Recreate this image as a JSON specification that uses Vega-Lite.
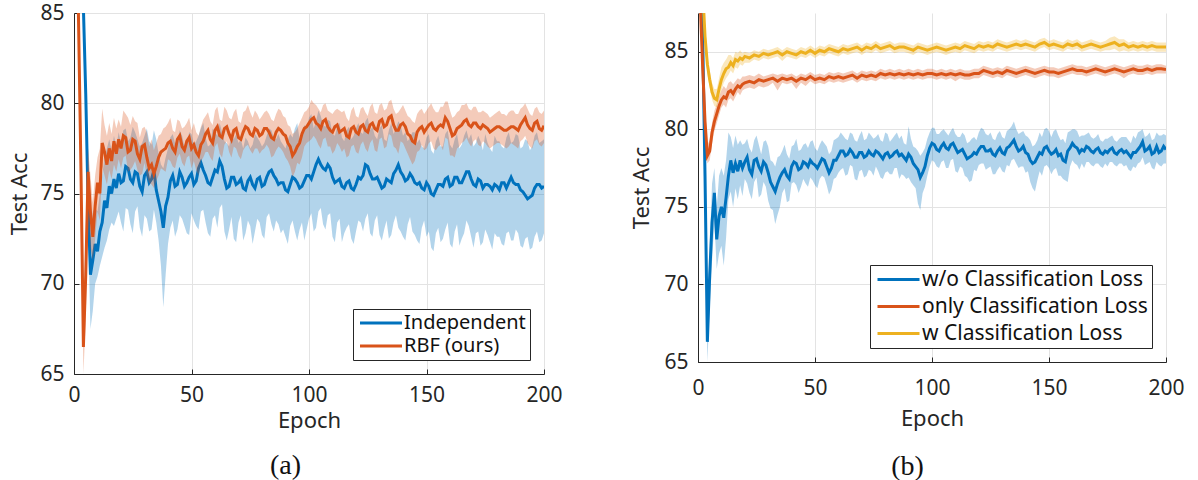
{
  "$schema": "https://vega.github.io/schema/vega-lite/v6.json",
  "background": "white",
  "padding": {"left": 8, "top": 2, "right": 5, "bottom": 5},
  "spacing": 67,
  "resolve": {"scale": {"color": "independent", "y": "independent", "x": "independent"}, "legend": {"color": "independent"}},
  "config": {
    "font": "Noto Sans",
    "view": {"stroke": null},
    "mark": {"invalid": "filter"},
    "axis": {
      "labelFont": "Noto Sans", "titleFont": "Noto Sans",
      "labelColor": "#262626", "titleColor": "#262626",
      "domainColor": "#262626", "tickColor": "#262626", "domainWidth": 1,
      "gridColor": "#E3E3E3", "grid": true, "labelFlush": false,
      "tickSize": -5, "labelFontSize": 21, "titleFontSize": 22, "titleFontWeight": "normal"
    },
    "legend": {
      "labelFont": "Noto Sans", "labelColor": "#111111", "labelFontSize": 20, "labelLimit": 400,
      "strokeColor": "#262626", "fillColor": "white", "padding": 4,
      "symbolType": "M-3,0H3", "symbolSize": 196, "symbolStrokeWidth": 3,
      "symbolOffset": 14, "labelOffset": 13, "rowPadding": 3
    },
    "title": {"font": "Liberation Serif", "fontSize": 28, "fontWeight": "normal", "color": "#111111"}
  },
  "datasets": {
    "a": [
      {"e":1,"i":95,"il":94,"ih":96,"r":92,"rl":91,"rh":93},
      {"e":2,"i":92,"il":91,"ih":93,"r":84,"rl":82.5,"rh":85.5},
      {"e":3,"i":88,"il":87,"ih":89,"r":76,"rl":74,"rh":79},
      {"e":4,"i":85.3,"il":84.5,"ih":86,"r":66.5,"rl":65,"rh":68},
      {"e":5,"i":80.5,"il":79.5,"ih":81.5,"r":70.5,"rl":68,"rh":73},
      {"e":6,"i":74.5,"il":73,"ih":76,"r":76.2,"rl":74.5,"rh":77.5},
      {"e":7,"i":70.5,"il":67.5,"ih":72.5,"r":74,"rl":72,"rh":76},
      {"e":8,"i":71.3,"il":68.5,"ih":74,"r":72.6,"rl":71.3,"rh":74.5},
      {"e":9,"i":72.2,"il":70,"ih":74.2,"r":74.3,"rl":72.5,"rh":76},
      {"e":10,"i":71.8,"il":70.4,"ih":74,"r":75.6,"rl":74,"rh":77},
      {"e":11,"i":72.9,"il":71,"ih":75,"r":75.0,"rl":73.5,"rh":77.5},
      {"e":12,"i":73.4,"il":71.5,"ih":76,"r":77.8,"rl":76.5,"rh":79.7},
      {"e":13,"i":74.6,"il":72,"ih":77,"r":77.3,"rl":76,"rh":78.8},
      {"e":14,"i":74.2,"il":72.4,"ih":77.5,"r":76.6,"rl":75.5,"rh":78.2},
      {"e":15,"i":75.4,"il":73,"ih":78,"r":77.5,"rl":76.3,"rh":78.9},
      {"e":16,"i":75.0,"il":73.4,"ih":77.4,"r":76.8,"rl":75.8,"rh":78.3},
      {"e":17,"i":75.8,"il":73.2,"ih":78.2,"r":77.9,"rl":76.6,"rh":79.2},
      {"e":18,"i":75.3,"il":73.6,"ih":77.6,"r":77.2,"rl":76.2,"rh":78.6},
      {"e":19,"i":76.1,"il":74,"ih":78.4,"r":78.0,"rl":76.9,"rh":79.1},
      {"e":20,"i":75.6,"il":73.4,"ih":77.8,"r":77.5,"rl":76.4,"rh":78.7},
      {"e":21,"i":75.7,"il":72.9,"ih":78.5,"r":78.2,"rl":77.0,"rh":79.6},
      {"e":22,"i":76.5,"il":74.2,"ih":78.6,"r":78.1,"rl":77.1,"rh":79.4},
      {"e":23,"i":76.4,"il":74.1,"ih":77.9,"r":77.3,"rl":76.2,"rh":79.2},
      {"e":24,"i":75.8,"il":73.3,"ih":78.1,"r":77.4,"rl":76.3,"rh":78.8},
      {"e":25,"i":75.6,"il":72.8,"ih":78.7,"r":78.0,"rl":76.5,"rh":79.3},
      {"e":26,"i":76.2,"il":74.0,"ih":78.4,"r":77.9,"rl":76.8,"rh":79.0},
      {"e":27,"i":76.1,"il":74.3,"ih":78.0,"r":77.2,"rl":76.3,"rh":78.9},
      {"e":28,"i":75.4,"il":73.1,"ih":77.6,"r":76.9,"rl":76.0,"rh":78.1},
      {"e":29,"i":75.1,"il":72.6,"ih":77.8,"r":77.6,"rl":76.1,"rh":78.6},
      {"e":30,"i":76.0,"il":73.8,"ih":78.2,"r":77.7,"rl":76.7,"rh":78.7},
      {"e":31,"i":76.2,"il":73.6,"ih":78.6,"r":77.0,"rl":76.0,"rh":78.4},
      {"e":32,"i":75.6,"il":72.9,"ih":77.9,"r":76.4,"rl":75.6,"rh":77.6},
      {"e":33,"i":75.8,"il":73.0,"ih":77.7,"r":76.6,"rl":75.5,"rh":78.0},
      {"e":34,"i":76.3,"il":74.1,"ih":78.5,"r":76.1,"rl":75.3,"rh":77.4},
      {"e":35,"i":75.2,"il":73.4,"ih":78.0,"r":76.5,"rl":75.7,"rh":77.8},
      {"e":36,"i":74.6,"il":72.4,"ih":77.2,"r":77.0,"rl":76.0,"rh":78.2},
      {"e":37,"i":74.0,"il":71.0,"ih":76.6,"r":77.3,"rl":76.4,"rh":78.3},
      {"e":38,"i":73.1,"il":68.7,"ih":76.4,"r":77.4,"rl":76.3,"rh":78.6},
      {"e":39,"i":74.3,"il":70.5,"ih":77.0,"r":77.5,"rl":76.2,"rh":78.7},
      {"e":40,"i":74.8,"il":72.2,"ih":77.5,"r":77.8,"rl":76.9,"rh":78.9},
      {"e":41,"i":75.7,"il":73.1,"ih":78.1,"r":77.9,"rl":76.8,"rh":79.2},
      {"e":42,"i":76.0,"il":73.5,"ih":78.3,"r":77.5,"rl":76.5,"rh":78.5},
      {"e":43,"i":75.4,"il":72.6,"ih":77.8,"r":77.3,"rl":76.4,"rh":78.4},
      {"e":44,"i":75.5,"il":73.0,"ih":77.9,"r":78.0,"rl":77.0,"rh":79.1},
      {"e":45,"i":76.2,"il":73.8,"ih":78.5,"r":78.2,"rl":77.2,"rh":79.0},
      {"e":46,"i":75.9,"il":73.6,"ih":78.2,"r":77.6,"rl":76.7,"rh":78.6},
      {"e":47,"i":75.4,"il":73.2,"ih":77.6,"r":77.4,"rl":76.5,"rh":78.7},
      {"e":48,"i":75.6,"il":72.8,"ih":77.8,"r":77.9,"rl":77.0,"rh":78.9},
      {"e":49,"i":75.9,"il":72.7,"ih":78.4,"r":78.1,"rl":77.1,"rh":79.2},
      {"e":50,"i":76.1,"il":73.9,"ih":78.3,"r":77.5,"rl":76.4,"rh":78.5},
      {"e":51,"i":75.5,"il":73.5,"ih":77.7,"r":77.7,"rl":76.8,"rh":78.9},
      {"e":52,"i":75.7,"il":73.2,"ih":77.9,"r":77.3,"rl":76.3,"rh":78.4},
      {"e":53,"i":76.4,"il":73.0,"ih":78.2,"r":77.1,"rl":76.0,"rh":78.2},
      {"e":54,"i":76.7,"il":74.0,"ih":78.6,"r":77.7,"rl":76.8,"rh":78.7},
      {"e":55,"i":76.3,"il":74.1,"ih":78.9,"r":77.9,"rl":77.0,"rh":79.1},
      {"e":56,"i":76.0,"il":73.4,"ih":78.1,"r":78.3,"rl":77.3,"rh":79.3},
      {"e":57,"i":75.6,"il":72.8,"ih":77.6,"r":78.5,"rl":77.3,"rh":79.5},
      {"e":58,"i":75.5,"il":72.6,"ih":77.7,"r":78.0,"rl":77.0,"rh":79.0},
      {"e":59,"i":75.9,"il":73.6,"ih":78.6,"r":77.8,"rl":76.8,"rh":78.8},
      {"e":60,"i":76.3,"il":73.8,"ih":78.4,"r":78.5,"rl":77.6,"rh":79.6},
      {"e":61,"i":76.2,"il":73.1,"ih":78.2,"r":78.7,"rl":77.8,"rh":79.8},
      {"e":62,"i":76.8,"il":74.2,"ih":78.9,"r":78.2,"rl":77.2,"rh":79.1},
      {"e":63,"i":76.5,"il":74.4,"ih":78.4,"r":78.1,"rl":77.0,"rh":79.0},
      {"e":64,"i":75.8,"il":72.9,"ih":77.9,"r":78.6,"rl":77.7,"rh":79.8},
      {"e":65,"i":75.3,"il":72.4,"ih":77.8,"r":78.7,"rl":77.9,"rh":79.6},
      {"e":66,"i":75.4,"il":73.0,"ih":77.6,"r":78.3,"rl":77.3,"rh":79.2},
      {"e":67,"i":75.9,"il":73.7,"ih":78.2,"r":78.0,"rl":77.0,"rh":79.1},
      {"e":68,"i":75.9,"il":72.5,"ih":78.0,"r":78.5,"rl":77.6,"rh":79.5},
      {"e":69,"i":75.5,"il":72.3,"ih":78.3,"r":78.6,"rl":77.5,"rh":79.7},
      {"e":70,"i":75.6,"il":73.4,"ih":77.8,"r":78.1,"rl":77.1,"rh":79.0},
      {"e":71,"i":75.8,"il":73.8,"ih":78.0,"r":78.0,"rl":76.9,"rh":78.9},
      {"e":72,"i":75.3,"il":72.4,"ih":77.5,"r":78.4,"rl":77.4,"rh":79.5},
      {"e":73,"i":75.2,"il":72.8,"ih":78.1,"r":78.7,"rl":77.6,"rh":79.6},
      {"e":74,"i":75.7,"il":73.5,"ih":77.9,"r":78.6,"rl":77.7,"rh":79.9},
      {"e":75,"i":75.9,"il":73.2,"ih":77.5,"r":78.3,"rl":77.4,"rh":79.5},
      {"e":76,"i":75.5,"il":72.2,"ih":77.7,"r":78.2,"rl":77.2,"rh":79.2},
      {"e":77,"i":75.3,"il":72.9,"ih":78.3,"r":78.6,"rl":77.5,"rh":79.6},
      {"e":78,"i":75.8,"il":73.6,"ih":78.1,"r":78.5,"rl":77.5,"rh":79.4},
      {"e":79,"i":75.9,"il":73.4,"ih":77.9,"r":78.2,"rl":77.2,"rh":79.1},
      {"e":80,"i":75.4,"il":72.7,"ih":77.6,"r":78.3,"rl":77.4,"rh":79.3},
      {"e":81,"i":75.5,"il":72.5,"ih":77.8,"r":78.6,"rl":77.5,"rh":79.5},
      {"e":82,"i":75.9,"il":73.7,"ih":78.2,"r":78.6,"rl":77.7,"rh":79.6},
      {"e":83,"i":76.2,"il":73.9,"ih":78.6,"r":78.4,"rl":77.5,"rh":79.4},
      {"e":84,"i":76.3,"il":73.3,"ih":78.5,"r":78.1,"rl":77.0,"rh":79.1},
      {"e":85,"i":76.0,"il":72.9,"ih":78.1,"r":78.0,"rl":77.1,"rh":79.0},
      {"e":86,"i":75.8,"il":73.5,"ih":78.0,"r":78.4,"rl":77.4,"rh":79.4},
      {"e":87,"i":75.5,"il":73.3,"ih":78.3,"r":78.6,"rl":77.6,"rh":79.7},
      {"e":88,"i":75.6,"il":72.8,"ih":77.9,"r":78.5,"rl":77.5,"rh":79.6},
      {"e":89,"i":75.6,"il":73.0,"ih":77.7,"r":78.3,"rl":77.3,"rh":79.3},
      {"e":90,"i":75.2,"il":72.6,"ih":77.5,"r":78.2,"rl":77.0,"rh":79.2},
      {"e":91,"i":75.1,"il":72.2,"ih":78.0,"r":77.8,"rl":76.8,"rh":78.8},
      {"e":92,"i":75.5,"il":73.2,"ih":78.3,"r":77.6,"rl":76.5,"rh":78.7},
      {"e":93,"i":75.9,"il":73.5,"ih":78.1,"r":77.1,"rl":75.9,"rh":78.3},
      {"e":94,"i":75.8,"il":72.9,"ih":78.6,"r":77.3,"rl":76.2,"rh":78.4},
      {"e":95,"i":75.6,"il":72.4,"ih":78.9,"r":77.6,"rl":76.7,"rh":78.6},
      {"e":96,"i":75.3,"il":73.0,"ih":78.0,"r":77.8,"rl":76.6,"rh":78.9},
      {"e":97,"i":75.4,"il":73.4,"ih":78.4,"r":78.3,"rl":77.0,"rh":79.2},
      {"e":98,"i":75.7,"il":72.4,"ih":78.8,"r":78.6,"rl":77.6,"rh":79.5},
      {"e":99,"i":76.0,"il":73.0,"ih":78.6,"r":78.7,"rl":77.8,"rh":79.6},
      {"e":100,"i":76.0,"il":73.6,"ih":79.2,"r":78.9,"rl":77.9,"rh":79.8},
      {"e":101,"i":75.8,"il":73.9,"ih":79.4,"r":79.1,"rl":78.0,"rh":80.2},
      {"e":102,"i":76.2,"il":72.9,"ih":78.6,"r":79.2,"rl":78.2,"rh":80.0},
      {"e":103,"i":76.6,"il":73.1,"ih":79.0,"r":78.9,"rl":78.0,"rh":79.9},
      {"e":104,"i":76.9,"il":74.0,"ih":79.6,"r":78.8,"rl":77.7,"rh":79.7},
      {"e":105,"i":76.6,"il":74.2,"ih":79.3,"r":78.6,"rl":77.5,"rh":79.5},
      {"e":106,"i":76.4,"il":73.3,"ih":78.8,"r":79.0,"rl":78.0,"rh":79.9},
      {"e":107,"i":76.3,"il":73.0,"ih":78.7,"r":79.1,"rl":78.1,"rh":80.0},
      {"e":108,"i":76.6,"il":73.8,"ih":79.1,"r":78.7,"rl":77.6,"rh":79.6},
      {"e":109,"i":76.4,"il":73.9,"ih":79.0,"r":78.5,"rl":77.6,"rh":79.5},
      {"e":110,"i":75.9,"il":72.6,"ih":78.3,"r":78.4,"rl":77.2,"rh":79.4},
      {"e":111,"i":75.6,"il":72.3,"ih":78.2,"r":78.7,"rl":77.4,"rh":79.6},
      {"e":112,"i":75.7,"il":73.4,"ih":78.7,"r":78.8,"rl":77.8,"rh":79.7},
      {"e":113,"i":75.8,"il":73.6,"ih":78.9,"r":78.4,"rl":77.6,"rh":79.6},
      {"e":114,"i":75.4,"il":72.3,"ih":78.1,"r":78.5,"rl":77.3,"rh":79.5},
      {"e":115,"i":75.3,"il":72.8,"ih":77.9,"r":78.6,"rl":77.5,"rh":79.6},
      {"e":116,"i":75.6,"il":73.1,"ih":78.5,"r":78.2,"rl":77.0,"rh":79.2},
      {"e":117,"i":75.7,"il":73.3,"ih":78.7,"r":78.1,"rl":77.1,"rh":79.0},
      {"e":118,"i":75.3,"il":72.5,"ih":78.0,"r":78.6,"rl":77.6,"rh":79.6},
      {"e":119,"i":75.2,"il":72.2,"ih":78.2,"r":78.7,"rl":77.7,"rh":79.8},
      {"e":120,"i":75.5,"il":72.9,"ih":78.6,"r":78.4,"rl":77.3,"rh":79.3},
      {"e":121,"i":75.9,"il":73.5,"ih":78.9,"r":78.3,"rl":77.2,"rh":79.2},
      {"e":122,"i":75.8,"il":73.4,"ih":78.4,"r":78.7,"rl":77.7,"rh":79.7},
      {"e":123,"i":76.0,"il":72.9,"ih":78.3,"r":78.8,"rl":77.9,"rh":79.8},
      {"e":124,"i":76.6,"il":73.6,"ih":79.0,"r":78.5,"rl":77.5,"rh":79.5},
      {"e":125,"i":76.5,"il":73.9,"ih":79.2,"r":78.4,"rl":77.3,"rh":79.3},
      {"e":126,"i":76.1,"il":72.8,"ih":78.5,"r":78.8,"rl":77.8,"rh":79.8},
      {"e":127,"i":75.8,"il":72.6,"ih":78.7,"r":78.9,"rl":78.0,"rh":80.0},
      {"e":128,"i":75.8,"il":73.5,"ih":78.2,"r":78.6,"rl":77.4,"rh":79.5},
      {"e":129,"i":75.9,"il":73.8,"ih":78.0,"r":78.5,"rl":77.3,"rh":79.4},
      {"e":130,"i":75.6,"il":72.7,"ih":78.6,"r":79.0,"rl":78.0,"rh":79.9},
      {"e":131,"i":75.3,"il":72.4,"ih":78.8,"r":79.1,"rl":78.1,"rh":80.0},
      {"e":132,"i":75.4,"il":73.0,"ih":78.0,"r":78.7,"rl":77.5,"rh":79.6},
      {"e":133,"i":75.8,"il":73.5,"ih":77.9,"r":78.8,"rl":77.6,"rh":79.7},
      {"e":134,"i":75.7,"il":72.5,"ih":78.5,"r":79.2,"rl":78.3,"rh":80.1},
      {"e":135,"i":75.6,"il":72.7,"ih":78.9,"r":79.3,"rl":78.2,"rh":80.2},
      {"e":136,"i":76.1,"il":73.4,"ih":78.3,"r":78.8,"rl":77.6,"rh":79.7},
      {"e":137,"i":76.3,"il":73.8,"ih":78.6,"r":78.5,"rl":77.5,"rh":79.4},
      {"e":138,"i":76.6,"il":73.1,"ih":79.0,"r":78.5,"rl":77.2,"rh":79.5},
      {"e":139,"i":76.2,"il":72.9,"ih":78.8,"r":78.8,"rl":77.9,"rh":79.7},
      {"e":140,"i":76.0,"il":72.6,"ih":78.2,"r":78.9,"rl":77.8,"rh":79.9},
      {"e":141,"i":75.7,"il":72.4,"ih":78.4,"r":78.7,"rl":77.5,"rh":79.6},
      {"e":142,"i":75.8,"il":73.3,"ih":77.9,"r":78.3,"rl":77.2,"rh":79.3},
      {"e":143,"i":76.1,"il":73.7,"ih":78.1,"r":78.2,"rl":76.9,"rh":79.2},
      {"e":144,"i":75.9,"il":72.9,"ih":78.4,"r":77.9,"rl":76.6,"rh":79.0},
      {"e":145,"i":75.6,"il":72.7,"ih":78.4,"r":77.8,"rl":76.8,"rh":78.9},
      {"e":146,"i":75.5,"il":72.4,"ih":77.8,"r":78.4,"rl":77.3,"rh":79.4},
      {"e":147,"i":75.6,"il":72.2,"ih":78.0,"r":78.6,"rl":77.4,"rh":79.6},
      {"e":148,"i":75.3,"il":73.1,"ih":77.6,"r":78.7,"rl":77.7,"rh":79.7},
      {"e":149,"i":75.2,"il":73.5,"ih":77.5,"r":78.4,"rl":77.4,"rh":79.4},
      {"e":150,"i":75.6,"il":72.6,"ih":78.1,"r":78.6,"rl":77.5,"rh":79.6},
      {"e":151,"i":75.4,"il":72.9,"ih":78.3,"r":78.8,"rl":77.8,"rh":79.8},
      {"e":152,"i":75.0,"il":72.0,"ih":77.4,"r":78.9,"rl":77.9,"rh":80.0},
      {"e":153,"i":74.9,"il":71.8,"ih":77.2,"r":78.6,"rl":77.5,"rh":79.7},
      {"e":154,"i":75.2,"il":72.8,"ih":77.9,"r":78.5,"rl":77.4,"rh":79.5},
      {"e":155,"i":75.5,"il":73.1,"ih":78.2,"r":78.7,"rl":77.6,"rh":79.5},
      {"e":156,"i":75.5,"il":72.3,"ih":77.6,"r":78.8,"rl":77.7,"rh":79.8},
      {"e":157,"i":75.4,"il":72.5,"ih":77.6,"r":78.7,"rl":77.4,"rh":79.8},
      {"e":158,"i":75.8,"il":73.0,"ih":78.3,"r":79.2,"rl":78.1,"rh":80.1},
      {"e":159,"i":75.9,"il":73.4,"ih":78.5,"r":79.0,"rl":78.0,"rh":80.1},
      {"e":160,"i":75.4,"il":72.2,"ih":77.7,"r":78.6,"rl":77.1,"rh":79.6},
      {"e":161,"i":75.5,"il":72.0,"ih":77.5,"r":78.2,"rl":77.1,"rh":79.2},
      {"e":162,"i":75.9,"il":72.9,"ih":78.0,"r":78.3,"rl":77.0,"rh":79.3},
      {"e":163,"i":75.9,"il":73.3,"ih":78.3,"r":78.6,"rl":77.5,"rh":79.5},
      {"e":164,"i":75.6,"il":72.1,"ih":77.5,"r":78.7,"rl":77.6,"rh":79.6},
      {"e":165,"i":75.6,"il":72.5,"ih":77.7,"r":78.8,"rl":77.8,"rh":79.9},
      {"e":166,"i":75.9,"il":72.8,"ih":78.2,"r":79.0,"rl":77.9,"rh":79.9},
      {"e":167,"i":76.2,"il":73.5,"ih":78.5,"r":79.1,"rl":78.1,"rh":80.0},
      {"e":168,"i":76.2,"il":73.2,"ih":78.0,"r":78.8,"rl":77.8,"rh":79.7},
      {"e":169,"i":75.8,"il":72.6,"ih":78.3,"r":78.7,"rl":77.6,"rh":79.6},
      {"e":170,"i":75.5,"il":72.0,"ih":77.6,"r":78.9,"rl":77.9,"rh":79.8},
      {"e":171,"i":75.4,"il":72.8,"ih":77.8,"r":78.9,"rl":78.0,"rh":79.8},
      {"e":172,"i":75.8,"il":72.9,"ih":78.2,"r":78.7,"rl":77.7,"rh":79.5},
      {"e":173,"i":75.7,"il":72.1,"ih":77.9,"r":78.6,"rl":77.6,"rh":79.5},
      {"e":174,"i":75.3,"il":72.3,"ih":77.4,"r":78.8,"rl":77.9,"rh":79.6},
      {"e":175,"i":75.5,"il":73.0,"ih":78.3,"r":78.7,"rl":77.8,"rh":79.5},
      {"e":176,"i":75.5,"il":72.7,"ih":77.8,"r":78.6,"rl":77.6,"rh":79.4},
      {"e":177,"i":75.4,"il":72.3,"ih":77.5,"r":78.4,"rl":77.5,"rh":79.2},
      {"e":178,"i":75.2,"il":71.9,"ih":77.3,"r":78.5,"rl":77.6,"rh":79.3},
      {"e":179,"i":75.5,"il":72.8,"ih":78.2,"r":78.6,"rl":77.7,"rh":79.4},
      {"e":180,"i":75.4,"il":72.6,"ih":77.9,"r":78.7,"rl":77.8,"rh":79.5},
      {"e":181,"i":75.2,"il":72.6,"ih":77.9,"r":78.7,"rl":77.8,"rh":79.6},
      {"e":182,"i":75.6,"il":72.2,"ih":77.6,"r":78.6,"rl":77.7,"rh":79.4},
      {"e":183,"i":75.6,"il":72.1,"ih":77.5,"r":78.5,"rl":77.6,"rh":79.4},
      {"e":184,"i":75.3,"il":72.8,"ih":78.1,"r":78.5,"rl":77.5,"rh":79.3},
      {"e":185,"i":75.6,"il":72.9,"ih":78.4,"r":78.6,"rl":77.6,"rh":79.5},
      {"e":186,"i":75.9,"il":72.4,"ih":77.8,"r":78.7,"rl":77.8,"rh":79.6},
      {"e":187,"i":75.6,"il":72.4,"ih":77.9,"r":78.7,"rl":77.7,"rh":79.6},
      {"e":188,"i":75.5,"il":73.0,"ih":78.3,"r":78.6,"rl":77.6,"rh":79.4},
      {"e":189,"i":75.5,"il":72.8,"ih":78.2,"r":78.5,"rl":77.5,"rh":79.4},
      {"e":190,"i":75.2,"il":72.1,"ih":77.5,"r":78.8,"rl":77.9,"rh":79.7},
      {"e":191,"i":75.1,"il":72.0,"ih":77.6,"r":79.0,"rl":78.0,"rh":79.8},
      {"e":192,"i":74.9,"il":72.5,"ih":78.0,"r":79.2,"rl":78.2,"rh":80.0},
      {"e":193,"i":74.7,"il":72.6,"ih":77.9,"r":78.8,"rl":77.8,"rh":79.7},
      {"e":194,"i":74.8,"il":71.9,"ih":77.4,"r":78.6,"rl":77.6,"rh":79.4},
      {"e":195,"i":74.9,"il":72.0,"ih":77.6,"r":78.5,"rl":77.5,"rh":79.3},
      {"e":196,"i":75.3,"il":72.6,"ih":78.2,"r":78.9,"rl":77.9,"rh":79.7},
      {"e":197,"i":75.5,"il":72.9,"ih":78.4,"r":79.0,"rl":78.0,"rh":79.8},
      {"e":198,"i":75.5,"il":72.3,"ih":77.8,"r":78.6,"rl":77.7,"rh":79.5},
      {"e":199,"i":75.3,"il":72.4,"ih":77.9,"r":78.5,"rl":77.6,"rh":79.4},
      {"e":200,"i":75.4,"il":72.8,"ih":78.0,"r":78.75,"rl":77.8,"rh":79.6}
    ],
    "b": [
      {"e":1,"w":92,"wl":91,"wh":93,"o":88,"ol":87,"oh":89,"c":92,"cl":91,"ch":93},
      {"e":2,"w":86,"wl":84.5,"wh":87.5,"o":84,"ol":83,"oh":85,"c":89,"cl":88,"ch":90},
      {"e":3,"w":77,"wl":75,"wh":79,"o":80.5,"ol":79.5,"oh":81.5,"c":86,"cl":85.3,"ch":86.8},
      {"e":4,"w":66.3,"wl":65,"wh":67.5,"o":78.3,"ol":77.8,"oh":79.0,"c":84.2,"cl":83.6,"ch":84.8},
      {"e":5,"w":70.6,"wl":68.5,"wh":72.5,"o":78.6,"ol":78.0,"oh":79.3,"c":83.2,"cl":82.7,"ch":83.8},
      {"e":6,"w":74.0,"wl":71.5,"wh":76.5,"o":79.8,"ol":79.1,"oh":80.4,"c":82.4,"cl":81.9,"ch":83.0},
      {"e":7,"w":75.9,"wl":74.0,"wh":77.5,"o":80.5,"ol":79.9,"oh":81.2,"c":82.0,"cl":81.5,"ch":82.6},
      {"e":8,"w":72.9,"wl":71.0,"wh":75.0,"o":81.0,"ol":80.4,"oh":81.6,"c":81.9,"cl":81.4,"ch":82.6},
      {"e":9,"w":74.4,"wl":72.0,"wh":77.0,"o":81.5,"ol":80.9,"oh":82.1,"c":82.6,"cl":82.0,"ch":83.3},
      {"e":10,"w":75.0,"wl":72.5,"wh":77.5,"o":81.9,"ol":81.4,"oh":82.5,"c":83.2,"cl":82.5,"ch":84.0},
      {"e":11,"w":74.3,"wl":71.2,"wh":77.0,"o":82.1,"ol":81.6,"oh":82.8,"c":83.6,"cl":83.0,"ch":84.3},
      {"e":12,"w":75.6,"wl":73.0,"wh":78.0,"o":82.0,"ol":81.4,"oh":82.6,"c":83.9,"cl":83.3,"ch":84.5},
      {"e":13,"w":77.0,"wl":75.5,"wh":79.8,"o":82.4,"ol":81.9,"oh":83.0,"c":84.0,"cl":83.5,"ch":84.8},
      {"e":14,"w":78.0,"wl":76.0,"wh":79.5,"o":82.5,"ol":82.0,"oh":83.1,"c":84.3,"cl":83.8,"ch":84.8},
      {"e":15,"w":77.2,"wl":75.0,"wh":78.8,"o":82.3,"ol":81.8,"oh":82.9,"c":84.1,"cl":83.6,"ch":84.6},
      {"e":16,"w":77.8,"wl":76.2,"wh":79.6,"o":82.6,"ol":82.1,"oh":83.1,"c":84.5,"cl":84.0,"ch":85.0},
      {"e":17,"w":77.3,"wl":75.5,"wh":79.0,"o":82.8,"ol":82.4,"oh":83.3,"c":84.4,"cl":83.9,"ch":84.9},
      {"e":18,"w":78.0,"wl":76.4,"wh":79.3,"o":82.7,"ol":82.2,"oh":83.2,"c":84.6,"cl":84.2,"ch":85.1},
      {"e":19,"w":77.5,"wl":75.7,"wh":79.0,"o":82.9,"ol":82.5,"oh":83.4,"c":84.5,"cl":84.1,"ch":84.9},
      {"e":20,"w":77.9,"wl":76.8,"wh":79.1,"o":83.0,"ol":82.6,"oh":83.4,"c":84.7,"cl":84.3,"ch":85.0},
      {"e":21,"w":78.2,"wl":76.5,"wh":79.4},
      {"e":22,"w":77.4,"wl":75.9,"wh":78.8,"o":83.1,"ol":82.7,"oh":83.5,"c":84.6,"cl":84.3,"ch":84.9},
      {"e":23,"w":77.1,"wl":75.5,"wh":78.5},
      {"e":24,"w":78.0,"wl":76.6,"wh":79.3,"o":83.0,"ol":82.6,"oh":83.4,"c":84.8,"cl":84.5,"ch":85.1},
      {"e":25,"w":78.1,"wl":76.9,"wh":79.6},
      {"e":26,"w":77.6,"wl":75.6,"wh":79.0,"o":83.2,"ol":82.8,"oh":83.6,"c":84.7,"cl":84.4,"ch":85.0},
      {"e":27,"w":77.3,"wl":75.8,"wh":78.4},
      {"e":28,"w":77.9,"wl":76.6,"wh":79.2,"o":83.1,"ol":82.7,"oh":83.4,"c":84.9,"cl":84.6,"ch":85.2},
      {"e":29,"w":77.7,"wl":76.3,"wh":79.3},
      {"e":30,"w":77.2,"wl":75.4,"wh":78.9,"o":83.2,"ol":82.8,"oh":83.5,"c":84.8,"cl":84.5,"ch":85.1},
      {"e":31,"w":76.6,"wl":74.9,"wh":78.0},
      {"e":32,"w":76.3,"wl":74.8,"wh":77.9,"o":83.3,"ol":83.0,"oh":83.6,"c":84.9,"cl":84.6,"ch":85.2},
      {"e":33,"w":76.0,"wl":73.9,"wh":77.6},
      {"e":34,"w":76.5,"wl":74.5,"wh":78.2,"o":83.1,"ol":82.5,"oh":83.5,"c":85.0,"cl":84.7,"ch":85.3},
      {"e":35,"w":76.9,"wl":75.0,"wh":78.3},
      {"e":36,"w":77.2,"wl":75.9,"wh":78.6,"o":83.3,"ol":83.0,"oh":83.6,"c":84.8,"cl":84.4,"ch":85.1},
      {"e":37,"w":77.4,"wl":76.2,"wh":79.0},
      {"e":38,"w":77.0,"wl":75.3,"wh":78.4,"o":83.2,"ol":82.9,"oh":83.5,"c":85.0,"cl":84.7,"ch":85.3},
      {"e":39,"w":76.8,"wl":75.4,"wh":78.1},
      {"e":40,"w":77.6,"wl":76.5,"wh":78.9,"o":83.3,"ol":83.0,"oh":83.6,"c":84.9,"cl":84.6,"ch":85.2},
      {"e":41,"w":77.9,"wl":76.6,"wh":79.0},
      {"e":42,"w":77.8,"wl":76.4,"wh":79.4,"o":83.1,"ol":82.6,"oh":83.4,"c":84.8,"cl":84.5,"ch":85.1},
      {"e":43,"w":77.4,"wl":75.9,"wh":78.6},
      {"e":44,"w":77.5,"wl":76.3,"wh":78.7,"o":83.3,"ol":83.0,"oh":83.6,"c":85.0,"cl":84.7,"ch":85.3},
      {"e":45,"w":77.9,"wl":76.8,"wh":79.0},
      {"e":46,"w":77.8,"wl":76.5,"wh":79.1,"o":83.2,"ol":82.8,"oh":83.5,"c":84.9,"cl":84.6,"ch":85.2},
      {"e":47,"w":77.6,"wl":76.3,"wh":78.8},
      {"e":48,"w":78.0,"wl":76.9,"wh":79.2,"o":83.4,"ol":83.1,"oh":83.7,"c":85.1,"cl":84.8,"ch":85.4},
      {"e":49,"w":77.8,"wl":76.7,"wh":79.3},
      {"e":50,"w":77.7,"wl":76.4,"wh":78.8,"o":83.2,"ol":82.9,"oh":83.5,"c":84.9,"cl":84.6,"ch":85.2},
      {"e":51,"w":77.5,"wl":76.2,"wh":78.6},
      {"e":52,"w":77.8,"wl":76.8,"wh":79.0,"o":83.3,"ol":83.0,"oh":83.6,"c":85.1,"cl":84.8,"ch":85.4},
      {"e":53,"w":78.1,"wl":77.0,"wh":79.3},
      {"e":54,"w":78.0,"wl":76.9,"wh":79.1,"o":83.2,"ol":82.9,"oh":83.5,"c":85.0,"cl":84.7,"ch":85.3},
      {"e":55,"w":77.6,"wl":76.4,"wh":78.9},
      {"e":56,"w":77.2,"wl":75.8,"wh":78.4,"o":83.4,"ol":83.1,"oh":83.7,"c":85.2,"cl":84.9,"ch":85.5},
      {"e":57,"w":77.5,"wl":76.1,"wh":78.6},
      {"e":58,"w":78.0,"wl":76.8,"wh":79.3,"o":83.3,"ol":83.0,"oh":83.6,"c":85.1,"cl":84.8,"ch":85.4},
      {"e":59,"w":78.0,"wl":76.9,"wh":79.4},
      {"e":60,"w":78.3,"wl":77.2,"wh":79.5,"o":83.4,"ol":83.1,"oh":83.7,"c":85.0,"cl":84.7,"ch":85.3},
      {"e":61,"w":78.6,"wl":77.4,"wh":79.8},
      {"e":62,"w":78.6,"wl":77.5,"wh":79.6,"o":83.3,"ol":83.0,"oh":83.6,"c":85.2,"cl":84.9,"ch":85.5},
      {"e":63,"w":78.3,"wl":77.0,"wh":79.4},
      {"e":64,"w":78.4,"wl":77.1,"wh":79.3,"o":83.4,"ol":83.1,"oh":83.7,"c":85.1,"cl":84.8,"ch":85.4},
      {"e":65,"w":78.7,"wl":77.7,"wh":79.8},
      {"e":66,"w":78.5,"wl":77.6,"wh":79.7,"o":83.5,"ol":83.2,"oh":83.8,"c":85.2,"cl":84.9,"ch":85.5},
      {"e":67,"w":78.2,"wl":76.8,"wh":79.3},
      {"e":68,"w":78.2,"wl":76.7,"wh":79.2,"o":83.3,"ol":83.0,"oh":83.6,"c":85.3,"cl":85.0,"ch":85.6},
      {"e":69,"w":78.5,"wl":77.3,"wh":79.6},
      {"e":70,"w":78.5,"wl":77.4,"wh":79.9,"o":83.5,"ol":83.2,"oh":83.8,"c":85.1,"cl":84.8,"ch":85.4},
      {"e":71,"w":78.2,"wl":76.9,"wh":79.3},
      {"e":72,"w":78.3,"wl":77.0,"wh":79.4,"o":83.4,"ol":83.1,"oh":83.7,"c":85.3,"cl":85.0,"ch":85.6},
      {"e":73,"w":78.6,"wl":77.4,"wh":79.8},
      {"e":74,"w":78.4,"wl":77.3,"wh":79.6,"o":83.5,"ol":83.2,"oh":83.8,"c":85.2,"cl":84.9,"ch":85.5},
      {"e":75,"w":78.3,"wl":77.0,"wh":79.4},
      {"e":76,"w":78.6,"wl":77.6,"wh":79.5,"o":83.4,"ol":83.1,"oh":83.7,"c":85.4,"cl":85.1,"ch":85.7},
      {"e":77,"w":78.5,"wl":77.3,"wh":79.7},
      {"e":78,"w":78.3,"wl":76.9,"wh":79.3,"o":83.6,"ol":83.3,"oh":83.9,"c":85.2,"cl":84.9,"ch":85.5},
      {"e":79,"w":78.1,"wl":76.8,"wh":79.2},
      {"e":80,"w":78.4,"wl":77.2,"wh":79.8,"o":83.5,"ol":83.2,"oh":83.8,"c":85.3,"cl":85.0,"ch":85.6},
      {"e":81,"w":78.5,"wl":77.3,"wh":79.7},
      {"e":82,"w":78.2,"wl":77.1,"wh":79.2,"o":83.6,"ol":83.3,"oh":83.9,"c":85.4,"cl":85.1,"ch":85.7},
      {"e":83,"w":78.3,"wl":77.1,"wh":79.4},
      {"e":84,"w":78.5,"wl":77.5,"wh":79.6,"o":83.5,"ol":83.2,"oh":83.8,"c":85.2,"cl":84.9,"ch":85.5},
      {"e":85,"w":78.6,"wl":77.5,"wh":79.8},
      {"e":86,"w":78.3,"wl":76.8,"wh":79.4,"o":83.6,"ol":83.3,"oh":83.9,"c":85.3,"cl":85.0,"ch":85.6},
      {"e":87,"w":78.4,"wl":77.1,"wh":79.6},
      {"e":88,"w":78.2,"wl":77.0,"wh":79.1,"o":83.5,"ol":83.2,"oh":83.8,"c":85.3,"cl":85.0,"ch":85.6},
      {"e":89,"w":78.0,"wl":76.8,"wh":79.0},
      {"e":90,"w":78.4,"wl":76.9,"wh":80.2,"o":83.6,"ol":83.3,"oh":83.9,"c":85.2,"cl":84.9,"ch":85.5},
      {"e":91,"w":78.2,"wl":76.6,"wh":79.4},
      {"e":92,"w":77.8,"wl":76.4,"wh":78.9,"o":83.5,"ol":83.2,"oh":83.8,"c":85.1,"cl":84.8,"ch":85.4},
      {"e":93,"w":77.6,"wl":76.2,"wh":78.8},
      {"e":94,"w":77.4,"wl":75.2,"wh":78.6,"o":83.6,"ol":83.3,"oh":83.9,"c":85.3,"cl":85.0,"ch":85.6},
      {"e":95,"w":76.9,"wl":74.8,"wh":78.3},
      {"e":96,"w":77.2,"wl":75.9,"wh":78.5,"o":83.5,"ol":83.2,"oh":83.8,"c":85.2,"cl":84.9,"ch":85.5},
      {"e":97,"w":77.6,"wl":76.3,"wh":78.8},
      {"e":98,"w":78.3,"wl":77.0,"wh":79.4,"o":83.6,"ol":83.3,"oh":83.9,"c":85.1,"cl":84.8,"ch":85.4},
      {"e":99,"w":78.8,"wl":77.6,"wh":79.8},
      {"e":100,"w":79.1,"wl":78.0,"wh":80.1,"o":83.6,"ol":83.3,"oh":83.9,"c":85.2,"cl":84.9,"ch":85.5},
      {"e":101,"w":79.0,"wl":77.9,"wh":80.1},
      {"e":102,"w":78.7,"wl":77.6,"wh":79.7,"o":83.5,"ol":83.2,"oh":83.8,"c":85.3,"cl":85.0,"ch":85.6},
      {"e":103,"w":78.6,"wl":77.5,"wh":79.7},
      {"e":104,"w":78.9,"wl":77.9,"wh":79.9,"o":83.6,"ol":83.3,"oh":83.9,"c":85.2,"cl":84.9,"ch":85.5},
      {"e":105,"w":79.1,"wl":78.0,"wh":80.0},
      {"e":106,"w":78.8,"wl":77.5,"wh":79.8,"o":83.5,"ol":83.2,"oh":83.8,"c":85.1,"cl":84.8,"ch":85.4},
      {"e":107,"w":78.7,"wl":77.5,"wh":79.6},
      {"e":108,"w":79.0,"wl":78.0,"wh":79.9,"o":83.6,"ol":83.3,"oh":83.9,"c":85.2,"cl":84.9,"ch":85.5},
      {"e":109,"w":79.1,"wl":78.1,"wh":80.1},
      {"e":110,"w":78.8,"wl":77.3,"wh":79.7,"o":83.5,"ol":83.1,"oh":83.8,"c":85.3,"cl":85.0,"ch":85.6},
      {"e":111,"w":78.5,"wl":77.2,"wh":79.5},
      {"e":112,"w":78.6,"wl":77.6,"wh":79.5,"o":83.6,"ol":83.3,"oh":83.9,"c":85.2,"cl":84.9,"ch":85.5},
      {"e":113,"w":78.7,"wl":77.5,"wh":79.8},
      {"e":114,"w":78.4,"wl":77.0,"wh":79.6,"o":83.5,"ol":83.2,"oh":83.8,"c":85.4,"cl":85.1,"ch":85.7},
      {"e":115,"w":78.1,"wl":76.9,"wh":79.1},
      {"e":116,"w":78.2,"wl":76.6,"wh":79.2,"o":83.5,"ol":83.2,"oh":83.8,"c":85.3,"cl":85.0,"ch":85.6},
      {"e":117,"w":78.3,"wl":76.7,"wh":79.4},
      {"e":118,"w":78.5,"wl":77.4,"wh":79.5,"o":83.6,"ol":83.3,"oh":83.9,"c":85.2,"cl":84.9,"ch":85.5},
      {"e":119,"w":78.4,"wl":77.3,"wh":79.3},
      {"e":120,"w":78.7,"wl":77.7,"wh":79.8,"o":83.6,"ol":83.3,"oh":83.9,"c":85.4,"cl":85.1,"ch":85.7},
      {"e":121,"w":78.9,"wl":77.8,"wh":80.1},
      {"e":122,"w":78.9,"wl":77.8,"wh":80.0,"o":83.8,"ol":83.5,"oh":84.1,"c":85.3,"cl":85.0,"ch":85.6},
      {"e":123,"w":78.6,"wl":77.4,"wh":79.7},
      {"e":124,"w":78.6,"wl":77.5,"wh":79.6,"o":83.7,"ol":83.4,"oh":84.0,"c":85.4,"cl":85.1,"ch":85.7},
      {"e":125,"w":78.7,"wl":77.6,"wh":79.8},
      {"e":126,"w":78.4,"wl":77.1,"wh":79.4,"o":83.6,"ol":83.3,"oh":83.9,"c":85.3,"cl":85.0,"ch":85.6},
      {"e":127,"w":78.3,"wl":77.1,"wh":79.3},
      {"e":128,"w":78.6,"wl":77.4,"wh":79.7,"o":83.7,"ol":83.4,"oh":84.0,"c":85.5,"cl":85.2,"ch":85.8},
      {"e":129,"w":78.8,"wl":77.6,"wh":79.9},
      {"e":130,"w":78.5,"wl":77.3,"wh":79.5,"o":83.6,"ol":83.3,"oh":83.9,"c":85.4,"cl":85.1,"ch":85.7},
      {"e":131,"w":78.4,"wl":77.2,"wh":79.4},
      {"e":132,"w":78.8,"wl":77.7,"wh":79.9,"o":83.8,"ol":83.5,"oh":84.1,"c":85.3,"cl":85.0,"ch":85.6},
      {"e":133,"w":78.9,"wl":77.6,"wh":80.0},
      {"e":134,"w":79.1,"wl":78.0,"wh":80.2,"o":83.7,"ol":83.4,"oh":84.0,"c":85.4,"cl":85.1,"ch":85.7},
      {"e":135,"w":79.3,"wl":78.1,"wh":80.5},
      {"e":136,"w":78.9,"wl":77.8,"wh":80.0,"o":83.6,"ol":83.3,"oh":83.9,"c":85.5,"cl":85.2,"ch":85.8},
      {"e":137,"w":78.6,"wl":77.5,"wh":79.7},
      {"e":138,"w":78.7,"wl":77.6,"wh":79.8,"o":83.7,"ol":83.4,"oh":84.0,"c":85.4,"cl":85.1,"ch":85.7},
      {"e":139,"w":78.9,"wl":77.6,"wh":79.9},
      {"e":140,"w":78.5,"wl":77.2,"wh":79.6,"o":83.8,"ol":83.5,"oh":84.1,"c":85.5,"cl":85.2,"ch":85.8},
      {"e":141,"w":78.4,"wl":77.3,"wh":79.5},
      {"e":142,"w":78.0,"wl":76.6,"wh":79.3,"o":83.7,"ol":83.4,"oh":84.0,"c":85.4,"cl":85.1,"ch":85.7},
      {"e":143,"w":77.8,"wl":76.2,"wh":78.9},
      {"e":144,"w":77.9,"wl":76.0,"wh":79.0,"o":83.6,"ol":83.3,"oh":83.9,"c":85.3,"cl":85.0,"ch":85.6},
      {"e":145,"w":78.2,"wl":76.7,"wh":79.3},
      {"e":146,"w":78.5,"wl":77.3,"wh":79.8,"o":83.7,"ol":83.4,"oh":84.0,"c":85.5,"cl":85.2,"ch":85.8},
      {"e":147,"w":78.4,"wl":77.0,"wh":79.5},
      {"e":148,"w":78.8,"wl":77.6,"wh":80.0,"o":83.8,"ol":83.5,"oh":84.1,"c":85.6,"cl":85.3,"ch":85.9},
      {"e":149,"w":78.9,"wl":77.7,"wh":80.1},
      {"e":150,"w":78.6,"wl":77.5,"wh":79.9,"o":83.7,"ol":83.4,"oh":84.0,"c":85.4,"cl":85.1,"ch":85.7},
      {"e":151,"w":78.4,"wl":77.1,"wh":79.5},
      {"e":152,"w":78.5,"wl":77.4,"wh":79.9,"o":83.7,"ol":83.4,"oh":84.0,"c":85.5,"cl":85.2,"ch":85.8},
      {"e":153,"w":78.7,"wl":77.5,"wh":80.0},
      {"e":154,"w":78.3,"wl":77.0,"wh":79.6,"o":83.6,"ol":83.3,"oh":83.9,"c":85.4,"cl":85.1,"ch":85.7},
      {"e":155,"w":78.4,"wl":77.0,"wh":79.3},
      {"e":156,"w":78.0,"wl":76.8,"wh":79.4,"o":83.7,"ol":83.4,"oh":84.0,"c":85.3,"cl":85.0,"ch":85.6},
      {"e":157,"w":77.9,"wl":76.7,"wh":79.1},
      {"e":158,"w":78.6,"wl":76.6,"wh":79.8,"o":83.8,"ol":83.5,"oh":84.1,"c":85.5,"cl":85.2,"ch":85.8},
      {"e":159,"w":78.8,"wl":77.6,"wh":79.9},
      {"e":160,"w":79.1,"wl":78.0,"wh":80.0,"o":83.9,"ol":83.6,"oh":84.2,"c":85.4,"cl":85.1,"ch":85.7},
      {"e":161,"w":78.9,"wl":77.8,"wh":80.0},
      {"e":162,"w":78.8,"wl":77.7,"wh":79.9,"o":83.8,"ol":83.5,"oh":84.1,"c":85.5,"cl":85.2,"ch":85.8},
      {"e":163,"w":78.5,"wl":77.4,"wh":79.5},
      {"e":164,"w":78.7,"wl":77.8,"wh":79.6,"o":83.8,"ol":83.5,"oh":84.1,"c":85.3,"cl":85.0,"ch":85.6},
      {"e":165,"w":78.6,"wl":77.5,"wh":79.6},
      {"e":166,"w":78.9,"wl":77.9,"wh":79.7,"o":83.7,"ol":83.4,"oh":84.0,"c":85.4,"cl":85.1,"ch":85.7},
      {"e":167,"w":78.8,"wl":77.9,"wh":79.8},
      {"e":168,"w":78.6,"wl":77.7,"wh":79.5,"o":83.8,"ol":83.5,"oh":84.1,"c":85.5,"cl":85.2,"ch":85.8},
      {"e":169,"w":78.5,"wl":77.6,"wh":79.4},
      {"e":170,"w":78.7,"wl":77.8,"wh":79.5,"o":83.9,"ol":83.6,"oh":84.2,"c":85.4,"cl":85.1,"ch":85.7},
      {"e":171,"w":78.8,"wl":77.8,"wh":79.7},
      {"e":172,"w":78.5,"wl":77.6,"wh":79.3,"o":83.8,"ol":83.5,"oh":84.1,"c":85.3,"cl":85.0,"ch":85.6},
      {"e":173,"w":78.4,"wl":77.5,"wh":79.2},
      {"e":174,"w":78.6,"wl":77.8,"wh":79.4,"o":83.7,"ol":83.4,"oh":84.0,"c":85.4,"cl":85.1,"ch":85.7},
      {"e":175,"w":78.5,"wl":77.6,"wh":79.4},
      {"e":176,"w":78.7,"wl":77.9,"wh":79.5,"o":83.8,"ol":83.5,"oh":84.1,"c":85.5,"cl":85.1,"ch":85.9},
      {"e":177,"w":78.8,"wl":77.9,"wh":79.6},
      {"e":178,"w":78.5,"wl":77.7,"wh":79.3,"o":83.9,"ol":83.6,"oh":84.2,"c":85.6,"cl":85.2,"ch":86.0},
      {"e":179,"w":78.4,"wl":77.6,"wh":79.2},
      {"e":180,"w":78.6,"wl":77.8,"wh":79.4,"o":83.8,"ol":83.5,"oh":84.1,"c":85.4,"cl":85.0,"ch":85.8},
      {"e":181,"w":78.7,"wl":77.8,"wh":79.5},
      {"e":182,"w":78.5,"wl":77.6,"wh":79.5,"o":83.7,"ol":83.3,"oh":84.0,"c":85.5,"cl":85.1,"ch":85.8},
      {"e":183,"w":78.6,"wl":77.7,"wh":79.5},
      {"e":184,"w":78.4,"wl":77.4,"wh":79.3,"o":83.8,"ol":83.5,"oh":84.1,"c":85.3,"cl":85.0,"ch":85.6},
      {"e":185,"w":78.2,"wl":77.3,"wh":79.1},
      {"e":186,"w":78.5,"wl":77.6,"wh":79.6,"o":83.9,"ol":83.6,"oh":84.2,"c":85.4,"cl":85.1,"ch":85.7},
      {"e":187,"w":78.5,"wl":77.5,"wh":79.4},
      {"e":188,"w":78.7,"wl":77.8,"wh":79.8,"o":83.8,"ol":83.5,"oh":84.1,"c":85.3,"cl":85.0,"ch":85.6},
      {"e":189,"w":78.9,"wl":77.9,"wh":79.9},
      {"e":190,"w":79.2,"wl":78.2,"wh":80.0,"o":83.8,"ol":83.5,"oh":84.1,"c":85.4,"cl":85.1,"ch":85.7},
      {"e":191,"w":78.6,"wl":77.7,"wh":79.5},
      {"e":192,"w":78.7,"wl":77.8,"wh":79.6,"o":83.9,"ol":83.6,"oh":84.2,"c":85.3,"cl":85.0,"ch":85.6},
      {"e":193,"w":78.9,"wl":77.9,"wh":79.8},
      {"e":194,"w":78.4,"wl":77.5,"wh":79.3,"o":83.8,"ol":83.5,"oh":84.1,"c":85.4,"cl":85.1,"ch":85.7},
      {"e":195,"w":78.5,"wl":77.4,"wh":79.4},
      {"e":196,"w":78.9,"wl":77.9,"wh":79.8,"o":83.9,"ol":83.6,"oh":84.2,"c":85.3,"cl":85.0,"ch":85.6},
      {"e":197,"w":78.5,"wl":77.7,"wh":79.6},
      {"e":198,"w":78.6,"wl":77.6,"wh":79.6,"o":83.9,"ol":83.6,"oh":84.2,"c":85.3,"cl":85.0,"ch":85.6},
      {"e":199,"w":78.9,"wl":77.8,"wh":79.7},
      {"e":200,"w":78.7,"wl":77.8,"wh":79.6,"o":83.85,"ol":83.6,"oh":84.1,"c":85.3,"cl":85.0,"ch":85.6}
    ]
  },
  "hconcat": [
    {
      "width": 470,
      "height": 361,
      "data": {"name": "a"},
      "title": {"text": "(a)", "orient": "bottom", "anchor": "middle", "frame": "bounds", "offset": 21},
      "encoding": {
        "x": {
          "field": "e", "type": "quantitative",
          "scale": {"domain": [0, 200], "nice": false, "zero": false},
          "axis": {"title": "Epoch", "values": [0, 50, 100, 150, 200], "labelPadding": 15, "titlePadding": 5}
        }
      },
      "layer": [
        {
          "mark": {"type": "area", "color": "#0072BD", "opacity": 0.3, "clip": true},
          "encoding": {
            "y": {"field": "il", "type": "quantitative",
              "scale": {"domain": [65, 85], "nice": false, "zero": false},
              "axis": {"title": "Test Acc", "values": [65, 70, 75, 80, 85], "labelPadding": 15, "titlePadding": 8}},
            "y2": {"field": "ih"}
          }
        },
        {
          "mark": {"type": "line", "strokeWidth": 3, "clip": true},
          "encoding": {
            "y": {"field": "i", "type": "quantitative"},
            "color": {"datum": "Independent", "type": "nominal",
              "scale": {"domain": ["Independent", "RBF (ours)"], "range": ["#0072BD", "#D95319"]},
              "legend": {"title": null, "orient": "bottom-right", "offset": 14}}
          }
        },
        {
          "mark": {"type": "area", "color": "#D95319", "opacity": 0.3, "clip": true},
          "encoding": {
            "y": {"field": "rl", "type": "quantitative"},
            "y2": {"field": "rh"}
          }
        },
        {
          "mark": {"type": "line", "strokeWidth": 3, "clip": true},
          "encoding": {
            "y": {"field": "r", "type": "quantitative"},
            "color": {"datum": "RBF (ours)", "type": "nominal"}
          }
        }
      ]
    },
    {
      "width": 468,
      "height": 349,
      "data": {"name": "b"},
      "title": {"text": "(b)", "orient": "bottom", "anchor": "middle", "frame": "bounds", "offset": 24},
      "encoding": {
        "x": {
          "field": "e", "type": "quantitative",
          "scale": {"domain": [0, 200], "nice": false, "zero": false},
          "axis": {"title": "Epoch", "values": [0, 50, 100, 150, 200], "labelPadding": 20, "titlePadding": 10}
        }
      },
      "layer": [
        {
          "mark": {"type": "area", "color": "#0072BD", "opacity": 0.3, "clip": true},
          "encoding": {
            "y": {"field": "wl", "type": "quantitative",
              "scale": {"domain": [65, 87.5], "nice": false, "zero": false},
              "axis": {"title": "Test Acc", "values": [65, 70, 75, 80, 85], "labelPadding": 15, "titlePadding": 10}},
            "y2": {"field": "wh"}
          }
        },
        {
          "mark": {"type": "line", "strokeWidth": 3, "clip": true},
          "encoding": {
            "y": {"field": "w", "type": "quantitative"},
            "color": {"datum": "w/o Classification Loss", "type": "nominal",
              "scale": {"domain": ["w/o Classification Loss", "only Classification Loss", "w Classification Loss"], "range": ["#0072BD", "#D95319", "#EDB120"]},
              "legend": {"title": null, "orient": "bottom-right", "offset": 14, "labelFontSize": 21, "rowPadding": 5}}
          }
        },
        {
          "mark": {"type": "area", "color": "#D95319", "opacity": 0.3, "clip": true},
          "encoding": {
            "y": {"field": "ol", "type": "quantitative"},
            "y2": {"field": "oh"}
          }
        },
        {
          "mark": {"type": "line", "strokeWidth": 3, "clip": true},
          "encoding": {
            "y": {"field": "o", "type": "quantitative"},
            "color": {"datum": "only Classification Loss", "type": "nominal"}
          }
        },
        {
          "mark": {"type": "area", "color": "#EDB120", "opacity": 0.3, "clip": true},
          "encoding": {
            "y": {"field": "cl", "type": "quantitative"},
            "y2": {"field": "ch"}
          }
        },
        {
          "mark": {"type": "line", "strokeWidth": 3, "clip": true},
          "encoding": {
            "y": {"field": "c", "type": "quantitative"},
            "color": {"datum": "w Classification Loss", "type": "nominal"}
          }
        }
      ]
    }
  ]
}
